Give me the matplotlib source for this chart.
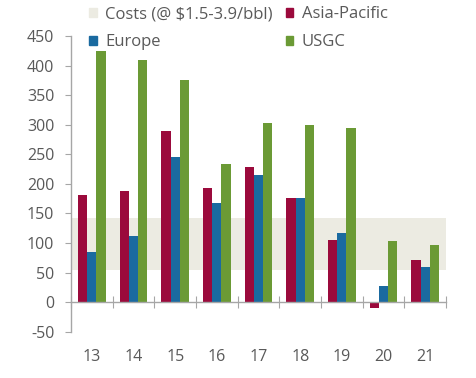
import matplotlib.pyplot as plt
import matplotlib.transforms as mtransforms
from matplotlib.patches import Patch
import numpy as np

plt.rcParams["font.family"] = ["Open Sans", "DejaVu Sans"]

years = ["13", "14", "15", "16", "17", "18", "19", "20", "21"]
asia_pacific = [181, 188, 290, 193, 228, 177, 105, -9, 72]
europe = [85, 112, 246, 168, 215, 176, 117, 27, 59]
usgc = [424, 410, 375, 234, 303, 300, 295, 104, 97]
cost_low, cost_high = 55, 142

RED = "#9b0a3c"
BLUE = "#1a6aa0"
GREEN = "#6b9a35"
BAND = "#ecebe2"
GREY = "#595959"

fig = plt.figure(figsize=(4.77, 3.78), dpi=100)
ax = fig.add_axes([0.149, 0.122, 0.786, 0.783])

x = np.arange(len(years))
w = 0.22
ax.axhspan(cost_low, cost_high, color=BAND, lw=0, zorder=0)
ax.bar(x - w, asia_pacific, w, color=RED, zorder=2)
ax.bar(x, europe, w, color=BLUE, zorder=2)
ax.bar(x + w, usgc, w, color=GREEN, zorder=2)

ax.set_xlim(-0.5, len(years) - 0.5)
ax.set_ylim(-50, 450)
ax.set_yticks(range(-50, 451, 50))
ax.set_yticklabels([str(v) for v in range(-50, 451, 50)])

for side in ["top", "right"]:
    ax.spines[side].set_visible(False)
ax.spines["bottom"].set_position(("data", 0))
for side in ["left", "bottom"]:
    ax.spines[side].set_color("#a6a6a6")
    ax.spines[side].set_linewidth(1.0)

ax.set_xticks(np.arange(len(years) + 1) - 0.5)
ax.set_xticklabels([])
ax.tick_params(axis="x", direction="inout", length=8, color="#a6a6a6")
ax.tick_params(axis="y", direction="out", length=4, color="#a6a6a6",
               labelsize=11.5, labelcolor=GREY, pad=8)

trans = mtransforms.blended_transform_factory(ax.transData, ax.transAxes)
for xi, lab in zip(x, years):
    ax.text(xi, -0.085, lab, transform=trans, ha="center", va="center",
            fontsize=11.5, color=GREY)

handles = [
    Patch(color=BAND, label="Costs (@ $1.5-3.9/bbl)"),
    Patch(color=BLUE, label="Europe"),
    Patch(color=RED, label="Asia-Pacific"),
    Patch(color=GREEN, label="USGC"),
]
fig.legend(handles=handles, ncol=2, loc="upper left",
           bbox_to_anchor=(0.187, 0.983), frameon=False, fontsize=12,
           borderpad=0, borderaxespad=0,
           handlelength=0.45, handleheight=0.45, handletextpad=0.5,
           columnspacing=0.8, labelspacing=0.7, labelcolor=GREY)

fig.savefig("out.png", dpi=100)
